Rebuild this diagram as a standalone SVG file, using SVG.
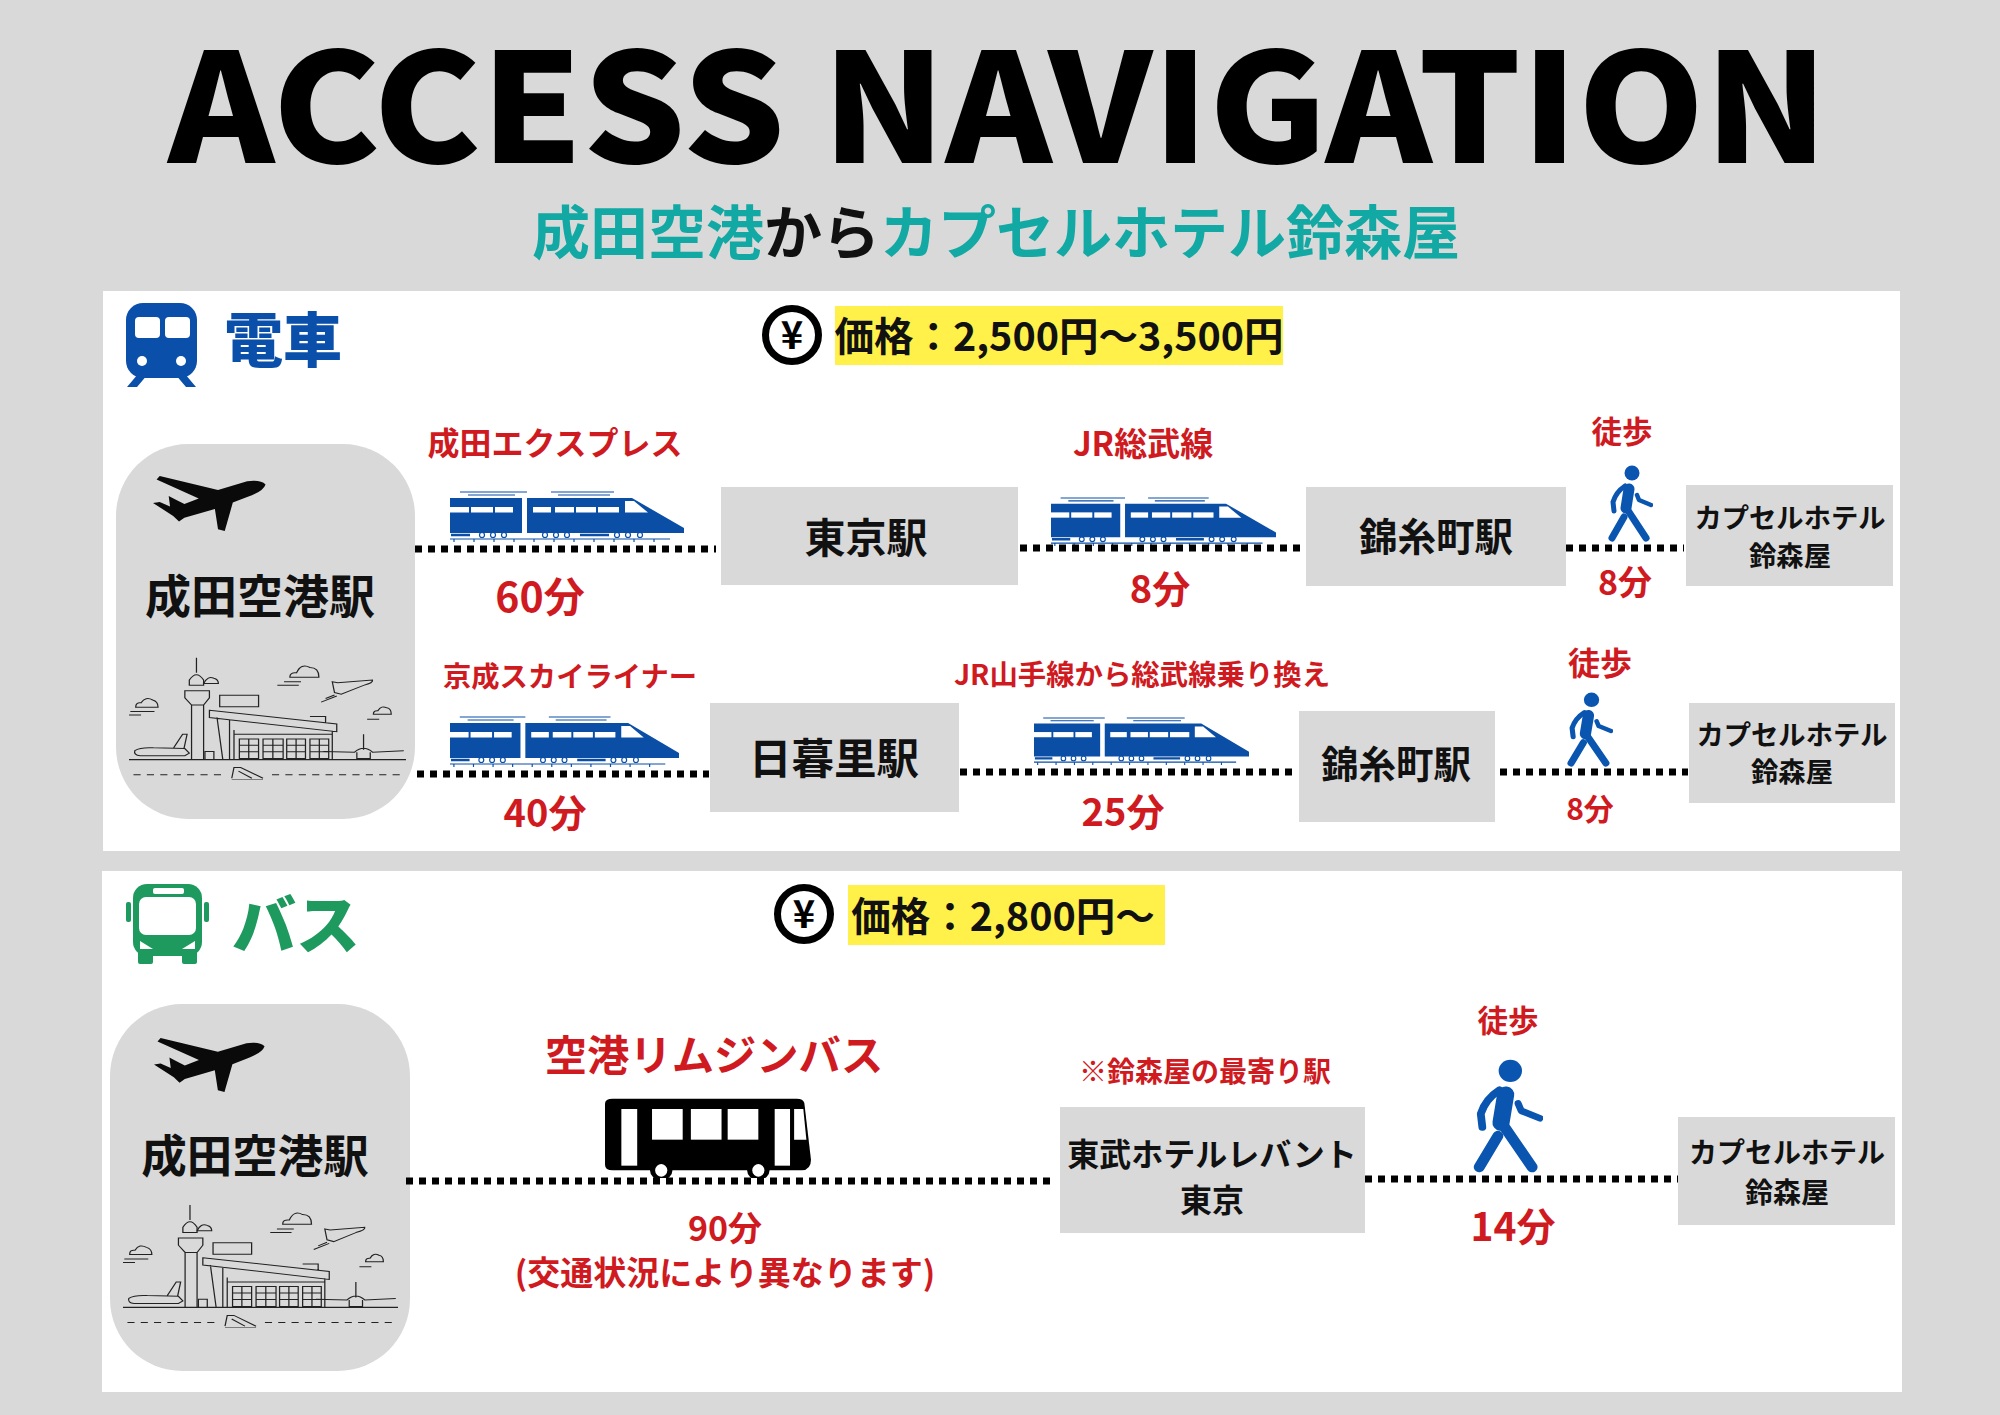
<svg xmlns="http://www.w3.org/2000/svg" xmlns:xlink="http://www.w3.org/1999/xlink" width="2000" height="1415" viewBox="0 0 2000 1415">
<style>
text{font-family:"Noto Sans CJK JP","Noto Sans",sans-serif;font-weight:700;text-anchor:middle}
.r{fill:#cf1a1f}
.k{fill:#111}
.box{fill:#d9d9d9}
.dot{fill:none;stroke:#000;stroke-width:7;stroke-dasharray:7 6}
.a{fill:none;stroke:#222;stroke-width:2.8}
.yen{fill:#fff;stroke:#000;stroke-width:7}
.hl{fill:#fff04a}
</style>
<defs>
<symbol id="plane" viewBox="120 548 252 160" preserveAspectRatio="none">
<path fill="#0a0a0a" d="M371 572Q366 592 330 608L298 624L280 705L265 700L258 642L190 667L178 678L165 662L120 625L135 622L158 635L155 605L170 615L190 628L222 612L128 558L135 548L265 588L330 563Q360 558 371 572Z"/>
</symbol>
<symbol id="train" viewBox="0 0 234 51" preserveAspectRatio="none">
<path fill="#0a4ea6" d="M0 7H72V42H0ZM77 7H182L234 37V42H77Z"/>
<g fill="#fff"><rect x="0" y="16" width="19" height="5.5"/><rect x="21" y="16" width="22" height="5.5"/><rect x="45" y="16" width="18" height="5.5"/><rect x="83" y="16" width="18" height="5.5"/><rect x="105" y="16" width="19" height="5.5"/><rect x="126" y="16" width="20" height="5.5"/><rect x="148" y="16" width="21" height="5.5"/><path d="M175 10H184L198 21.5H175Z"/></g>
<g fill="none" stroke="#0a4ea6" stroke-width="1.2"><path d="M10 1H77M18 4H65M101 1H164M108 4H160M0 48H220"/><path stroke-width="2.5" d="M1 44H20M130 44H159"/><circle cx="32" cy="44" r="2.5"/><circle cx="43" cy="44" r="2.5"/><circle cx="54" cy="44" r="2.5"/><circle cx="95" cy="44" r="2.5"/><circle cx="106" cy="44" r="2.5"/><circle cx="117" cy="44" r="2.5"/><circle cx="167" cy="44" r="2.5"/><circle cx="178" cy="44" r="2.5"/><circle cx="190" cy="44" r="2.5"/><path d="M4 48V51M24 48V51M44 48V51M64 48V51M84 48V51M104 48V51M124 48V51M144 48V51M164 48V51M184 48V51M204 48V51"/></g>
</symbol>
<symbol id="walker" viewBox="0 0 45 77" preserveAspectRatio="none">
<g fill="none" stroke="#0a55b0" stroke-linecap="round" stroke-linejoin="round"><path stroke-width="11" d="M21 24L18 43"/><path stroke-width="7" d="M19 44L38 73"/><path stroke-width="7" d="M16 52L4 73"/><path stroke-width="5" d="M17 21Q8 27 5 37L6 46"/><path stroke-width="4.5" d="M29 30L31 35L43 40"/></g>
<circle cx="24" cy="8" r="7.5" fill="#0a55b0"/>
</symbol>
<symbol id="airport" viewBox="65 1050 620 350" preserveAspectRatio="none">
<g class="a">
<path d="M216 1058V1100M200 1120Q216 1090 232 1120V1135H200ZM190 1150H245V1170L232 1190H205L190 1170ZM205 1190V1343M232 1190V1343"/>
<path d="M268 1163H355V1195H268ZM245 1205L530 1243V1265L245 1225ZM262 1225L275 1343M290 1230V1343M300 1260V1343M520 1262V1343M300 1272H520M470 1222H505V1240"/>
<path d="M312 1285H355V1340H312ZM312 1303H355M312 1321H355M333 1285V1340M365 1285H410V1340H365ZM365 1303H410M365 1321H410M387 1285V1340M418 1285H460V1340H418ZM418 1303H460M418 1321H460M439 1285V1340M470 1285H512V1340H470ZM470 1303H512M470 1321H512M491 1285V1340"/>
<path d="M78 1318Q90 1308 120 1310L190 1312L200 1325L190 1332H90Q75 1330 78 1318ZM165 1310L185 1272H195L188 1312M235 1343V1320H255V1343"/>
<path d="M590 1272V1315M500 1320L570 1322Q590 1300 610 1322L680 1318M575 1322V1340H605V1322"/>
<path stroke-width="3.4" d="M65 1343H685"/>
<path stroke-dasharray="16 14" d="M75 1385H280M385 1385H675"/>
<path d="M295 1395L300 1365H315L365 1395M310 1375L340 1395M295 1400H365"/>
<path d="M425 1112Q425 1098 440 1100Q450 1072 470 1085Q490 1085 490 1112ZM397 1135H445M412 1125H450"/>
<path d="M80 1196Q80 1182 92 1184Q102 1165 118 1176Q130 1180 130 1196ZM58 1218H92M68 1208H122"/>
<path d="M612 1216Q612 1205 622 1206Q630 1190 642 1198Q652 1200 652 1216ZM598 1230H625"/>
<path d="M232 1130Q240 1108 255 1115Q265 1118 265 1130Z"/>
<path d="M520 1125L532 1128L610 1120Q612 1128 590 1135L540 1160L525 1155ZM495 1182L530 1165M505 1172L525 1162"/>
</g>
</symbol>
<symbol id="coach" viewBox="990 685 405 240" preserveAspectRatio="none">
<path d="M1005 687H1365Q1378 687 1380 700L1393 870Q1393 900 1375 902H1005Q990 902 990 885V702Q990 687 1005 687Z"/>
<g fill="#fff"><rect x="1022" y="718" width="31" height="170"/><rect x="1082" y="718" width="60" height="92"/><rect x="1158" y="718" width="60" height="92"/><rect x="1230" y="718" width="60" height="92"/><rect x="1322" y="718" width="30" height="170"/><path d="M1360 718H1378L1384 810H1360Z"/></g>
<g fill="#fff" stroke="#000" stroke-width="10"><ellipse cx="1100" cy="902" rx="17" ry="24"/><ellipse cx="1290" cy="902" rx="17" ry="24"/></g>
</symbol>
</defs>
<rect width="2000" height="1415" fill="#d9d9d9"/>
<g id="header">
<text x="998" y="163" font-size="152" textLength="1660" lengthAdjust="spacingAndGlyphs" fill="#000" style="font-weight:900">ACCESS NAVIGATION</text>
<text x="996" y="254" font-size="58" fill="#12a9a4"><tspan>成田空港</tspan><tspan fill="#111">から</tspan><tspan>カプセルホテル鈴森屋</tspan></text>
</g>
<rect id="panel-train" x="103" y="291" width="1797" height="560" fill="#fff"/>
<rect id="panel-bus" x="102" y="871" width="1800" height="521" fill="#fff"/>
<g id="train-heading">
<g id="train-icon"><rect x="126" y="303" width="71" height="75" rx="17" fill="#0a50aa"/><path d="M138 374L127 387H137L148 374ZM185 374L196 387H186L175 374Z" fill="#0a50aa"/><rect x="135" y="317" width="25" height="21" rx="4" fill="#fff"/><rect x="165" y="317" width="25" height="21" rx="4" fill="#fff"/><circle cx="142" cy="361" r="5" fill="#fff"/><circle cx="181" cy="361" r="5" fill="#fff"/></g>
<text x="283" y="362" font-size="59" fill="#0a50aa" style="font-weight:900">電車</text>
<circle class="yen" cx="792" cy="335" r="26.5"/><text x="792" y="349" font-size="38" fill="#000">¥</text>
<rect class="hl" x="835" y="306" width="448" height="59"/>
<text x="1059" y="351" font-size="39.5" fill="#111">価格：2,500円〜3,500円</text>
</g>
<g id="node-narita-1"><rect class="box" x="116" y="444" width="299" height="375" rx="72"/><use href="#plane" x="153" y="476" width="113" height="56"/><text x="260" y="613" font-size="46" class="k">成田空港駅</text><use href="#airport" x="129" y="655" width="277" height="125"/></g>
<g id="node-tokyo"><rect class="box" x="721" y="487" width="297" height="98"/><text x="866" y="553" font-size="41" class="k">東京駅</text></g>
<g id="node-kinshicho-1"><rect class="box" x="1306" y="487" width="260" height="99"/><text x="1436" y="551" font-size="38.5" class="k">錦糸町駅</text></g>
<g id="node-hotel-1"><rect class="box" x="1686" y="485" width="207" height="101"/><text x="1790" y="528" font-size="27.3" class="k">カプセルホテル</text><text x="1790" y="566" font-size="27.3" class="k">鈴森屋</text></g>
<g id="node-nippori"><rect class="box" x="710" y="703" width="249" height="109"/><text x="834" y="774" font-size="42.5" class="k">日暮里駅</text></g>
<g id="node-kinshicho-2"><rect class="box" x="1299" y="711" width="196" height="111"/><text x="1396" y="778" font-size="37.5" class="k">錦糸町駅</text></g>
<g id="node-hotel-2"><rect class="box" x="1689" y="703" width="206" height="100"/><text x="1792" y="745" font-size="27.3" class="k">カプセルホテル</text><text x="1792" y="782" font-size="27.3" class="k">鈴森屋</text></g>
<g id="train-routes">
<text x="555" y="455" font-size="32" class="r">成田エクスプレス</text>
<use href="#train" x="450" y="491" width="234" height="51"/>
<text x="540" y="612" font-size="41" class="r">60分</text>
<text x="1143" y="456" font-size="33" class="r">JR総武線</text>
<use href="#train" x="1051" y="497" width="225" height="49"/>
<text x="1160" y="603" font-size="38" class="r">8分</text>
<text x="1622" y="443" font-size="30.5" class="r">徒歩</text>
<use href="#walker" x="1608" y="465" width="45" height="77"/>
<text x="1625" y="595" font-size="34" class="r">8分</text>
<text x="570" y="687" font-size="28.3" class="r">京成スカイライナー</text>
<use href="#train" x="450" y="716" width="229" height="51"/>
<text x="545" y="827" font-size="38" class="r">40分</text>
<text x="1142" y="685" font-size="28.4" class="r">JR山手線から総武線乗り換え</text>
<use href="#train" x="1034" y="717" width="215" height="48"/>
<text x="1123" y="826" font-size="38" class="r">25分</text>
<text x="1600" y="675" font-size="32" class="r">徒歩</text>
<use href="#walker" x="1567" y="692" width="46" height="75"/>
<text x="1590" y="820" font-size="30" class="r">8分</text>
</g>
<g id="bus-heading">
<g id="bus-icon" fill="#1f9a5f"><rect x="133" y="884" width="69" height="72" rx="14"/><rect x="126" y="902" width="5" height="20" rx="2"/><rect x="204" y="902" width="5" height="20" rx="2"/><rect x="138" y="950" width="15" height="14" rx="2"/><rect x="182" y="950" width="15" height="14" rx="2"/><rect x="153" y="888" width="31" height="6" rx="2" fill="#fff"/><rect x="139" y="897" width="57" height="38" rx="7" fill="#fff"/><path d="M140 941L153 949H140ZM195 941L182 949H195Z" fill="#fff"/></g>
<text x="296" y="948" font-size="64" fill="#1f9a5f" style="font-weight:900">バス</text>
<circle class="yen" cx="804" cy="914" r="26.5"/><text x="804" y="928" font-size="38" fill="#000">¥</text>
<rect class="hl" x="848" y="885" width="317" height="60"/>
<text x="1003" y="931" font-size="39.5" fill="#111">価格：2,800円〜</text>
</g>
<g id="node-narita-2"><rect class="box" x="110" y="1004" width="300" height="367" rx="72"/><use href="#plane" x="154" y="1038" width="111" height="55"/><text x="255" y="1173" font-size="45.5" class="k">成田空港駅</text><use href="#airport" x="123" y="1202" width="275" height="126"/></g>
<g id="node-tobu"><rect class="box" x="1060" y="1107" width="305" height="126"/><text x="1212" y="1166" font-size="32" class="k">東武ホテルレバント</text><text x="1212" y="1212" font-size="32" class="k">東京</text></g>
<g id="node-hotel-3"><rect class="box" x="1678" y="1117" width="217" height="108"/><text x="1787" y="1163" font-size="28" class="k">カプセルホテル</text><text x="1787" y="1203" font-size="28" class="k">鈴森屋</text></g>
<g id="bus-routes">
<text x="714" y="1071" font-size="42.3" class="r">空港リムジンバス</text>
<use href="#coach" x="605" y="1098" width="207" height="80"/>
<text x="725" y="1241" font-size="34" class="r">90分</text>
<text x="725" y="1285" font-size="33" class="r">(交通状況により異なります)</text>
<text x="1205" y="1082" font-size="28" class="r">※鈴森屋の最寄り駅</text>
<text x="1508" y="1032" font-size="30.5" class="r">徒歩</text>
<use href="#walker" x="1473" y="1059" width="70" height="114"/>
<text x="1513" y="1241" font-size="39" class="r">14分</text>
</g>
<g id="connectors">
<path class="dot" d="M415 549H716"/>
<path class="dot" d="M1020 548H1301"/>
<path class="dot" d="M1566 548H1684"/>
<path class="dot" d="M417 774H709"/>
<path class="dot" d="M960 772H1295"/>
<path class="dot" d="M1500 772H1688"/>
<path class="dot" d="M406 1181H1056"/>
<path class="dot" d="M1365 1179H1678"/>
</g>
</svg>
